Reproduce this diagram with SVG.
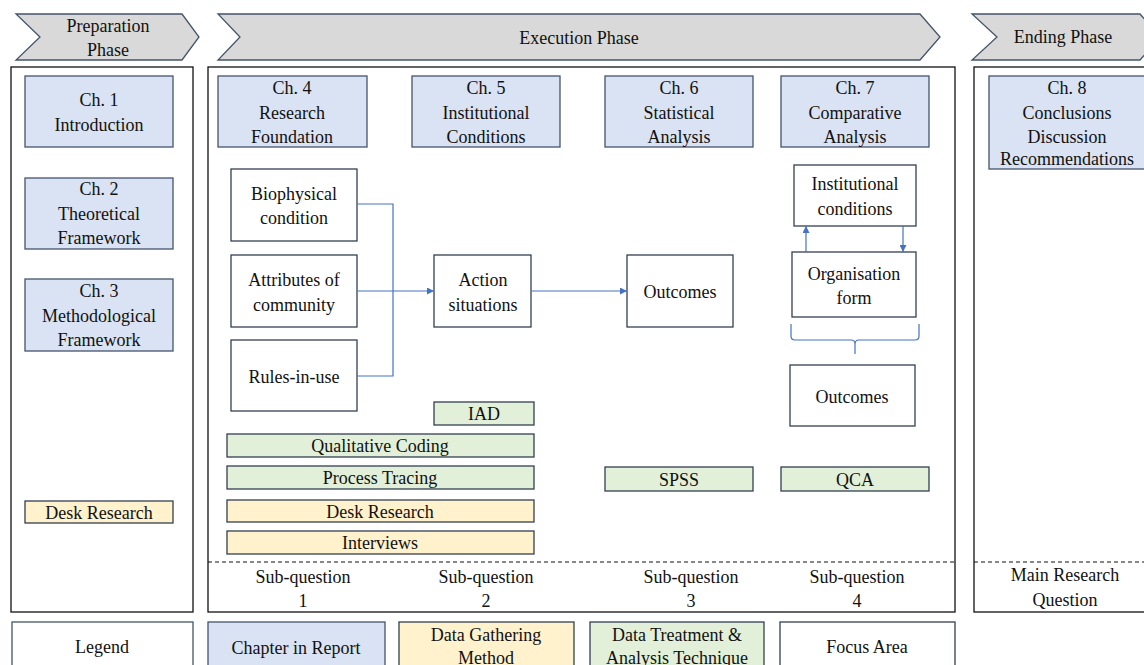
<svg xmlns="http://www.w3.org/2000/svg" width="1144" height="665" viewBox="0 0 1144 665">
<defs>
<style>
text{font-family:"Liberation Serif","Times New Roman","DejaVu Serif",serif;font-size:18px;fill:#111;text-anchor:middle}
.phase{fill:#d9d9d9;stroke:#44546a;stroke-width:1.3}
.panel{fill:#fff;stroke:#111;stroke-width:1.3}
.ch{fill:#dae3f3;stroke:#44546a;stroke-width:1.3}
.nd{fill:#fff;stroke:#333f50;stroke-width:1.3}
.gr{fill:#e2f0d9;stroke:#333f50;stroke-width:1.3}
.ye{fill:#fff2cc;stroke:#333f50;stroke-width:1.3}
.dash{stroke:#111;stroke-width:1;stroke-dasharray:4 3;fill:none}
.con{stroke:#4472c4;stroke-width:1.2;fill:none}
</style>
<marker id="ah" viewBox="0 0 10 10" refX="10" refY="5" markerWidth="7" markerHeight="7" orient="auto" markerUnits="userSpaceOnUse"><path d="M0,0 L10,5 L0,10 z" fill="#4472c4"/></marker>
</defs>
<rect width="1144" height="665" fill="#fff"/>

<g id="phase-prep"><polygon class="phase" points="16,14 182,14 199,37 182,60 16,60 40,37"/><text x="108" y="32">Preparation</text><text x="108" y="56">Phase</text></g>
<g id="phase-exec"><polygon class="phase" points="218,14 920,14 940,37 920,60 218,60 240,37"/><text x="579" y="44">Execution Phase</text></g>
<g id="phase-end"><polygon class="phase" points="972,14 1140,14 1160,37 1140,60 972,60 997,37"/><text x="1063" y="43">Ending Phase</text></g>

<g id="panel-prep"><rect class="panel" x="11" y="67" width="182" height="545"/></g>
<g id="panel-exec"><rect class="panel" x="208" y="67" width="747" height="545"/><line class="dash" x1="208" y1="562" x2="955" y2="562"/></g>
<g id="panel-end"><rect class="panel" x="974" y="67" width="180" height="545"/><line class="dash" x1="974" y1="562" x2="1144" y2="562"/></g>

<g id="ch1"><rect class="ch" x="25" y="76" width="148" height="71"/><text x="99" y="106">Ch. 1</text><text x="99" y="131">Introduction</text></g>
<g id="ch2"><rect class="ch" x="25" y="178" width="148" height="71"/><text x="99" y="195">Ch. 2</text><text x="99" y="220">Theoretical</text><text x="99" y="244">Framework</text></g>
<g id="ch3"><rect class="ch" x="25" y="279" width="148" height="72"/><text x="99" y="297">Ch. 3</text><text x="99" y="322">Methodological</text><text x="99" y="346">Framework</text></g>
<g id="ch4"><rect class="ch" x="218" y="76" width="149" height="71"/><text x="292" y="94">Ch. 4</text><text x="292" y="119">Research</text><text x="292" y="143">Foundation</text></g>
<g id="ch5"><rect class="ch" x="412" y="76" width="148" height="71"/><text x="486" y="94">Ch. 5</text><text x="486" y="119">Institutional</text><text x="486" y="143">Conditions</text></g>
<g id="ch6"><rect class="ch" x="605" y="76" width="148" height="71"/><text x="679" y="94">Ch. 6</text><text x="679" y="119">Statistical</text><text x="679" y="143">Analysis</text></g>
<g id="ch7"><rect class="ch" x="781" y="76" width="148" height="71"/><text x="855" y="94">Ch. 7</text><text x="855" y="119">Comparative</text><text x="855" y="143">Analysis</text></g>
<g id="ch8"><rect class="ch" x="989" y="76" width="160" height="93"/><text x="1067" y="94">Ch. 8</text><text x="1067" y="119">Conclusions</text><text x="1067" y="143">Discussion</text><text x="1067" y="165">Recommendations</text></g>

<g id="biophysical"><rect class="nd" x="231" y="169" width="126" height="72"/><text x="294" y="200">Biophysical</text><text x="294" y="224">condition</text></g>
<g id="attributes"><rect class="nd" x="231" y="255" width="126" height="72"/><text x="294" y="286">Attributes of</text><text x="294" y="311">community</text></g>
<g id="rules"><rect class="nd" x="231" y="340" width="126" height="71"/><text x="294" y="383">Rules-in-use</text></g>
<g id="action"><rect class="nd" x="434" y="255" width="97" height="72"/><text x="483" y="286">Action</text><text x="483" y="311">situations</text></g>
<g id="outcomes6"><rect class="nd" x="627" y="255" width="106" height="72"/><text x="680" y="298">Outcomes</text></g>
<g id="inst-cond"><rect class="nd" x="794" y="165" width="122" height="61"/><text x="855" y="190">Institutional</text><text x="855" y="215">conditions</text></g>
<g id="org-form"><rect class="nd" x="792" y="252" width="124" height="65"/><text x="854" y="280">Organisation</text><text x="854" y="304">form</text></g>
<g id="outcomes7"><rect class="nd" x="790" y="365" width="125" height="61"/><text x="852" y="403">Outcomes</text></g>

<g id="iad"><rect class="gr" x="434" y="402" width="100" height="23"/><text x="484" y="420">IAD</text></g>
<g id="qual-coding"><rect class="gr" x="227" y="434" width="307" height="23"/><text x="380" y="452">Qualitative Coding</text></g>
<g id="process-tracing"><rect class="gr" x="227" y="466" width="307" height="23"/><text x="380" y="484">Process Tracing</text></g>
<g id="desk-research-exec"><rect class="ye" x="227" y="500" width="307" height="22"/><text x="380" y="518">Desk Research</text></g>
<g id="interviews"><rect class="ye" x="227" y="531" width="307" height="23"/><text x="380" y="549">Interviews</text></g>
<g id="spss"><rect class="gr" x="605" y="467" width="148" height="24"/><text x="679" y="486">SPSS</text></g>
<g id="qca"><rect class="gr" x="781" y="467" width="148" height="24"/><text x="855" y="486">QCA</text></g>
<g id="desk-research-prep"><rect class="ye" x="25" y="501" width="148" height="22"/><text x="99" y="519">Desk Research</text></g>

<g id="subq"><text x="303" y="583">Sub-question</text><text x="303" y="607">1</text><text x="486" y="583">Sub-question</text><text x="486" y="607">2</text><text x="691" y="583">Sub-question</text><text x="691" y="607">3</text><text x="857" y="583">Sub-question</text><text x="857" y="607">4</text><text x="1065" y="581">Main Research</text><text x="1065" y="606">Question</text></g>

<g id="legend"><rect class="panel" x="12" y="622" width="181" height="50" style="stroke:#44546a"/><text x="102" y="653">Legend</text></g>
<g id="legend-chapter"><rect class="ch" x="208" y="622" width="177" height="50"/><text x="296" y="654">Chapter in Report</text></g>
<g id="legend-gathering"><rect class="ye" x="399" y="622" width="175" height="50"/><text x="486" y="641">Data Gathering</text><text x="486" y="664">Method</text></g>
<g id="legend-treatment"><rect class="gr" x="590" y="622" width="174" height="50"/><text x="677" y="641">Data Treatment &amp;</text><text x="677" y="664">Analysis Technique</text></g>
<g id="legend-focus"><rect class="nd" x="780" y="622" width="175" height="50"/><text x="867" y="653">Focus Area</text></g>

<g id="connectors">
<polyline class="con" points="357,204 393,204 393,376 357,376"/>
<line class="con" x1="357" y1="291" x2="434" y2="291" marker-end="url(#ah)"/>
<line class="con" x1="531" y1="291" x2="627" y2="291" marker-end="url(#ah)"/>
<line class="con" x1="806" y1="252" x2="806" y2="226" marker-end="url(#ah)"/>
<line class="con" x1="903" y1="226" x2="903" y2="252" marker-end="url(#ah)"/>
<path class="con" d="M791,324 L791,336 Q791,340 795,340 L851,340 Q855,340 855,344 L855,354 M855,344 Q855,340 859,340 L915,340 Q919,340 919,336 L919,324"/>
</g>
</svg>
